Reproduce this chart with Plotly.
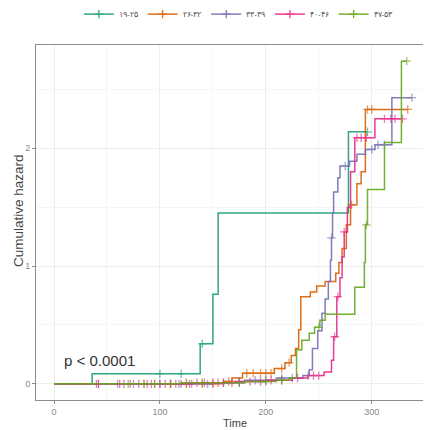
import plotly.graph_objects as go

groups = ["۱۹-۲۵", "۲۶-۳۲", "۳۳-۳۹", "۴۰-۴۶", "۴۷-۵۳"]
colors = ["#1B9E77", "#D95F02", "#7570B3", "#E7298A", "#66A61E"]

# group 19-25
t1 = [0, 36, 138, 150, 155, 278]
h1 = [0, 0.085, 0.34, 0.76, 1.45, 2.14]
c1 = [100, 120, 140, 296]

# group 26-32
t2 = [0, 160, 168, 178, 208, 218, 224, 228, 231, 233, 242, 248, 256, 266, 269, 272, 276, 280, 286, 290, 294]
h2 = [0, 0.02, 0.05, 0.09, 0.13, 0.18, 0.24, 0.30, 0.46, 0.74, 0.78, 0.83, 0.87, 0.94, 1.03, 1.15, 1.35, 1.52, 1.70, 1.80, 2.33]
c2 = [95, 110, 125, 140, 150, 165, 182, 188, 195, 200, 205, 215, 222, 281, 296, 300, 334]

# group 33-39
t3 = [0, 150, 180, 210, 235, 241, 244, 249, 253, 256, 259, 261, 262, 263, 264, 268, 270, 279, 286, 294, 303, 319]
h3 = [0, 0.01, 0.03, 0.05, 0.07, 0.12, 0.30, 0.45, 0.60, 0.72, 0.87, 1.05, 1.24, 1.45, 1.63, 1.75, 1.85, 1.89, 1.95, 1.99, 2.03, 2.43]
c3 = [42, 60, 75, 85, 100, 118, 130, 145, 160, 175, 190, 200, 215, 225, 240, 262, 275, 300, 306, 312, 338]

# group 40-46
t4 = [0, 130, 170, 200, 225, 240, 255, 262, 264, 267, 270, 272, 274, 277, 280, 284, 303]
h4 = [0, 0.01, 0.02, 0.03, 0.05, 0.07, 0.10, 0.20, 0.40, 0.74, 0.90, 1.08, 1.29, 1.50, 1.80, 2.09, 2.25]
c4 = [40, 42, 62, 66, 72, 80, 88, 92, 100, 105, 110, 115, 120, 128, 135, 142, 150, 155, 160,
      168, 175, 185, 195, 205, 215, 230, 245, 250, 265, 268, 274, 286, 290, 295, 312, 318, 322, 329]

# group 47-53
t5 = [0, 120, 180, 210, 222, 229, 234, 241, 246, 251, 256, 284, 293, 294, 296, 312, 328]
h5 = [0, 0.01, 0.02, 0.03, 0.05, 0.29, 0.37, 0.43, 0.48, 0.54, 0.59, 0.82, 1.03, 1.35, 1.65, 2.05, 2.74]
c5 = [70, 85, 95, 110, 125, 140, 175, 200, 215, 250, 295, 333]

x_ticks = [0, 100, 200, 300]
y_ticks = [0, 1, 2]
p_text = "p < 0.0001"
x_title = "Time"
y_title = "Cumulative hazard"

series = [(t1, h1, c1), (t2, h2, c2), (t3, h3, c3), (t4, h4, c4), (t5, h5, c5)]


def haz_at(ts, hs, c):
    v = 0
    for t, h in zip(ts, hs):
        if t <= c:
            v = h
    return v


fig = go.Figure()
for name, col, (ts, hs, cs) in zip(groups, colors, series):
    pts = [(t, h, 0) for t, h in zip(ts, hs)] + [(c, haz_at(ts, hs, c), 1) for c in cs]
    pts.sort(key=lambda p: (p[0], p[2]))
    xs = [p[0] for p in pts]
    ys = [p[1] for p in pts]
    sz = [6 if p[2] else 0 for p in pts]
    fig.add_trace(go.Scatter(
        x=xs, y=ys, mode="lines+markers", line_shape="hv",
        line=dict(color=col, width=1.5),
        marker=dict(symbol="cross-thin-open", size=sz, color=col, line=dict(width=1.3, color=col)),
        opacity=0.9, showlegend=False, hoverinfo="skip"))
    fig.add_trace(go.Scatter(
        x=[None], y=[None], mode="lines+markers", name=name,
        line=dict(color=col, width=1.5),
        marker=dict(symbol="cross-thin-open", size=6, color=col, line=dict(width=1.3, color=col)),
        opacity=0.9))

fig.add_annotation(x=8, y=0.2, text=p_text, showarrow=False, xanchor="left", yanchor="middle",
                   font=dict(family="Liberation Sans", size=15, color="#333333"))
fig.add_annotation(xref="paper", yref="paper", x=0.505, y=-0.066, text=x_title, showarrow=False,
                   xanchor="center", yanchor="middle",
                   font=dict(family="Liberation Sans", size=11, color="#444444"))
fig.add_annotation(xref="paper", yref="paper", x=-0.046, y=0.535, text=y_title, showarrow=False,
                   textangle=-90, xanchor="center", yanchor="middle",
                   font=dict(family="Liberation Sans", size=13.5, color="#444444"))

axis_common = dict(showline=True, linecolor="#8c8c8c", linewidth=1, mirror=True,
                   ticks="outside", ticklen=3, tickcolor="#8c8c8c",
                   tickfont=dict(family="Liberation Sans", size=9, color="#8a8a8a"),
                   showgrid=True, gridcolor="#ececec", gridwidth=1, zeroline=False,
                   minor=dict(showgrid=True, gridcolor="#f5f5f5", gridwidth=0.5))

fig.update_xaxes(range=[-17, 355], tickvals=x_ticks, minor_dtick=50, **axis_common)
fig.update_yaxes(range=[-0.137, 2.877], tickvals=y_ticks, minor_dtick=0.5, **axis_common)

# page body has an 8px default margin, so the figure is sized to fit the 431x430 window
fig.update_layout(
    width=423, height=422,
    margin=dict(l=28, r=1, t=37, b=30, autoexpand=False),
    plot_bgcolor="white", paper_bgcolor="white",
    legend=dict(orientation="h", x=0.515, xanchor="center", y=1.087, yanchor="middle",
                font=dict(family="Liberation Sans", size=8, color="#555555"),
                itemwidth=30, tracegroupgap=0, bgcolor="rgba(0,0,0,0)"),
)

fig.write_html("out.html")
